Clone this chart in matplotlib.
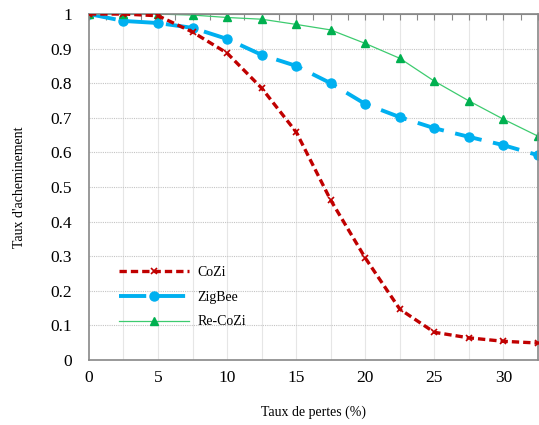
import numpy as np
import matplotlib.pyplot as plt

# values
pertes = [0, 2.5, 5, 7.5, 10, 12.5, 15, 17.5, 20, 22.5, 25, 27.5, 30, 32.5]
cozi = [1.0, 1.0, 0.995, 0.948, 0.887, 0.786, 0.659, 0.462, 0.295, 0.147, 0.08, 0.064, 0.054, 0.049]
zigbee = [1.0, 0.98, 0.974, 0.96, 0.928, 0.882, 0.85, 0.80, 0.74, 0.702, 0.67, 0.645, 0.621, 0.592]
recozi = [1.0, 1.0, 1.0, 0.997, 0.99, 0.985, 0.97, 0.954, 0.915, 0.872, 0.806, 0.749, 0.696, 0.647]
xticks = [0, 5, 10, 15, 20, 25, 30]
yticks = [0, 0.1, 0.2, 0.3, 0.4, 0.5, 0.6, 0.7, 0.8, 0.9, 1]
ylabels = ['0', '0.1', '0.2', '0.3', '0.4', '0.5', '0.6', '0.7', '0.8', '0.9', '1']

plt.rcParams['font.family'] = ['Liberation Serif', 'DejaVu Serif']

fig = plt.figure(figsize=(5.39, 4.25), dpi=100)
ax = fig.add_axes([0.165, 0.153, 0.833, 0.814])

# grid
for x in np.arange(2.5, 32.5, 2.5):
    ax.axvline(x, color='#e6e6e6', lw=0.8, zorder=0)
for y in yticks[1:-1]:
    ax.axhline(y, color='#c4c4c4', lw=0.8, ls=(0, (1, 1)), zorder=0)

ax.plot(pertes, cozi, color='#C00000', lw=2.4, ls=(0, (2.2, 1.2)),
        marker='x', markersize=4, markeredgewidth=1.2, label='CoZi', zorder=3)
ax.plot(pertes, zigbee, color='#00B0F0', lw=2.8, ls=(0, (7, 3)),
        marker='o', markersize=6.5, label='ZigBee', zorder=2)
ax.plot(pertes, recozi, color='#3DCB6F', lw=0.9, marker='^', markersize=6,
        markerfacecolor='#00B050', markeredgecolor='#00B050', label='Re-CoZi', zorder=2)

ax.set_xlim(0, 32.5)
ax.set_ylim(0, 1)
ax.set_xticks(xticks)
ax.set_yticks(yticks)
ax.set_yticklabels(ylabels)
ax.tick_params(axis='both', length=0, labelsize=12.5)
ax.tick_params(axis='x', pad=7)
ax.tick_params(axis='y', pad=12)

# small inward marks along the top border
ax2 = ax.secondary_xaxis('top')
ax2.set_xticks(np.arange(0, 32.6, 1.25))
ax2.tick_params(direction='in', length=4, color='#888888', labeltop=False)
ax2.spines['top'].set_color('#888888')

for s in ax.spines.values():
    s.set_color('#888888')
    s.set_linewidth(1.2)

ax.set_xlabel('Taux de pertes (%)', fontsize=10, labelpad=14)
ax.set_ylabel("Taux d'acheminement", fontsize=10, labelpad=18)

ax.legend(loc='lower left', bbox_to_anchor=(0.04, 0.055), frameon=False,
          fontsize=10, handlelength=5, labelspacing=0.85, handletextpad=0.6)

fig.savefig('out.png', dpi=100)
